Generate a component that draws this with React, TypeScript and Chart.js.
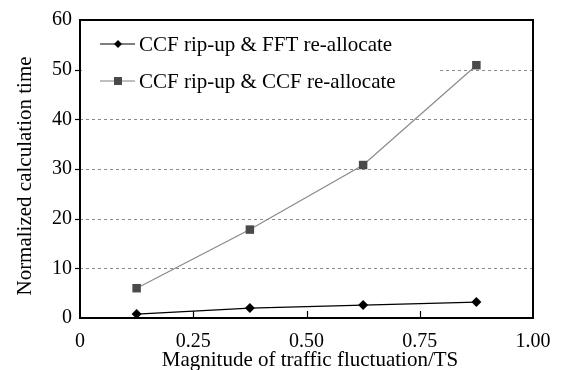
import React, { useEffect, useRef } from "react";
import { Chart, registerables } from "chart.js";

Chart.register(...registerables);

const xValues = [0.125, 0.375, 0.625, 0.875];
const fftSeries = [0.8, 2.0, 2.6, 3.2];
const ccfSeries = [6.0, 17.8, 30.8, 50.9];
const seriesLabels = ["CCF rip-up & FFT re-allocate", "CCF rip-up & CCF re-allocate"];
const xTickLabels = ["0", "0.25", "0.50", "0.75", "1.00"];
const yTicks = [0, 10, 20, 30, 40, 50, 60];
const xTitle = "Magnitude of traffic fluctuation/TS";
const yTitle = "Normalized calculation time";

const FONT = "'Liberation Serif', 'Times New Roman', serif";

const framePlugin = {
  id: "frame",
  beforeDatasetsDraw(chart: any) {
    const { ctx, chartArea } = chart;
    const ys = chart.scales.y;
    const { left, right, top } = chartArea;
    ctx.save();
    ctx.strokeStyle = "#8a8a8a";
    ctx.lineWidth = 1;
    ctx.setLineDash([3, 3]);
    for (const v of [10, 20, 30, 40, 50]) {
      const y = Math.round(ys.getPixelForValue(v)) + 0.5;
      ctx.beginPath();
      ctx.moveTo(left, y);
      ctx.lineTo(right, y);
      ctx.stroke();
    }
    ctx.setLineDash([]);
    ctx.fillStyle = "#ffffff";
    ctx.fillRect(left + 2, top + 2, 358, 76);
    const rows = [
      { y: top + 24, color: "#000000", marker: "#000000", style: "diamond", text: seriesLabels[0] },
      { y: top + 61, color: "#808080", marker: "#4a4a4a", style: "square", text: seriesLabels[1] },
    ];
    ctx.font = `21px ${FONT}`;
    ctx.textBaseline = "middle";
    ctx.textAlign = "left";
    for (const r of rows) {
      ctx.strokeStyle = r.color;
      ctx.lineWidth = 1.2;
      ctx.beginPath();
      ctx.moveTo(left + 20, r.y);
      ctx.lineTo(left + 55, r.y);
      ctx.stroke();
      ctx.fillStyle = r.marker;
      const cx = left + 38;
      if (r.style === "diamond") {
        ctx.beginPath();
        ctx.moveTo(cx, r.y - 4);
        ctx.lineTo(cx + 4, r.y);
        ctx.lineTo(cx, r.y + 4);
        ctx.lineTo(cx - 4, r.y);
        ctx.closePath();
        ctx.fill();
      } else {
        ctx.fillRect(cx - 4, r.y - 4, 8, 8);
      }
      ctx.fillStyle = "#000000";
      ctx.fillText(r.text, left + 59, r.y + 1);
    }
    ctx.restore();
  },
  afterDatasetsDraw(chart: any) {
    const { ctx, chartArea } = chart;
    const xs = chart.scales.x;
    const ys = chart.scales.y;
    const { left, right, top, bottom } = chartArea;
    ctx.save();
    ctx.strokeStyle = "#000000";
    ctx.lineWidth = 2;
    ctx.strokeRect(left, top, right - left, bottom - top);
    ctx.lineWidth = 1.2;
    for (const v of [0.25, 0.5, 0.75]) {
      const x = Math.round(xs.getPixelForValue(v)) + 0.5;
      ctx.beginPath();
      ctx.moveTo(x, bottom);
      ctx.lineTo(x, bottom - 7);
      ctx.stroke();
    }
    for (const v of [10, 20, 30, 40, 50]) {
      const y = Math.round(ys.getPixelForValue(v)) + 0.5;
      ctx.beginPath();
      ctx.moveTo(left, y);
      ctx.lineTo(left - 5, y);
      ctx.stroke();
    }
    ctx.fillStyle = "#000000";
    ctx.textAlign = "center";
    ctx.textBaseline = "alphabetic";
    ctx.font = `21px ${FONT}`;
    ctx.fillText(xTitle, 310, 366);
    ctx.translate(31, 176);
    ctx.rotate(-Math.PI / 2);
    ctx.fillText(yTitle, 0, 0);
    ctx.restore();
  },
};

export default function App() {
  const ref = useRef<HTMLCanvasElement | null>(null);
  useEffect(() => {
    if (!ref.current) return;
    const chart = new Chart(ref.current, {
      type: "line",
      data: {
        datasets: [
          {
            label: seriesLabels[0],
            data: xValues.map((x, i) => ({ x, y: fftSeries[i] })),
            borderColor: "#000000",
            backgroundColor: "#000000",
            borderWidth: 1.2,
            pointStyle: "rectRot",
            pointRadius: 5,
            pointBorderWidth: 0,
          },
          {
            label: seriesLabels[1],
            data: xValues.map((x, i) => ({ x, y: ccfSeries[i] })),
            borderColor: "#8a8a8a",
            backgroundColor: "#4a4a4a",
            borderWidth: 1.2,
            pointStyle: "rect",
            pointRadius: 6,
            pointBorderWidth: 0,
          },
        ],
      },
      options: {
        animation: false,
        responsive: false,
        maintainAspectRatio: false,
        layout: { padding: { top: 15, right: 36, left: 0, bottom: 0 } },
        plugins: { legend: { display: false }, tooltip: { enabled: false } },
        scales: {
          x: {
            type: "linear",
            min: 0,
            max: 1,
            grid: { display: false, drawTicks: false },
            border: { display: false },
            afterBuildTicks(scale: any) {
              scale.ticks = [0, 0.25, 0.5, 0.75, 1].map((v) => ({ value: v }));
            },
            afterFit(scale: any) {
              scale.height = 52;
            },
            ticks: {
              padding: 12,
              color: "#000000",
              font: { family: FONT, size: 20 },
              maxRotation: 0,
              callback: (_v: any, i: number) => xTickLabels[i],
            },
            title: { display: false },
          },
          y: {
            type: "linear",
            min: 0,
            max: 60,
            grid: { display: false, drawTicks: false },
            border: { display: false },
            afterBuildTicks(scale: any) {
              scale.ticks = yTicks.map((v) => ({ value: v }));
            },
            afterFit(scale: any) {
              scale.width = 80;
            },
            ticks: {
              padding: 8,
              color: "#000000",
              font: { family: FONT, size: 20 },
            },
            title: { display: false },
          },
        },
      },
      plugins: [framePlugin],
    } as any);
    return () => chart.destroy();
  }, []);
  return (
    <div style={{ position: "absolute", left: 0, top: 0, width: 569, height: 370, background: "#fff" }}>
      <canvas ref={ref} width={569} height={370} style={{ width: 569, height: 370 }} />
    </div>
  );
}
